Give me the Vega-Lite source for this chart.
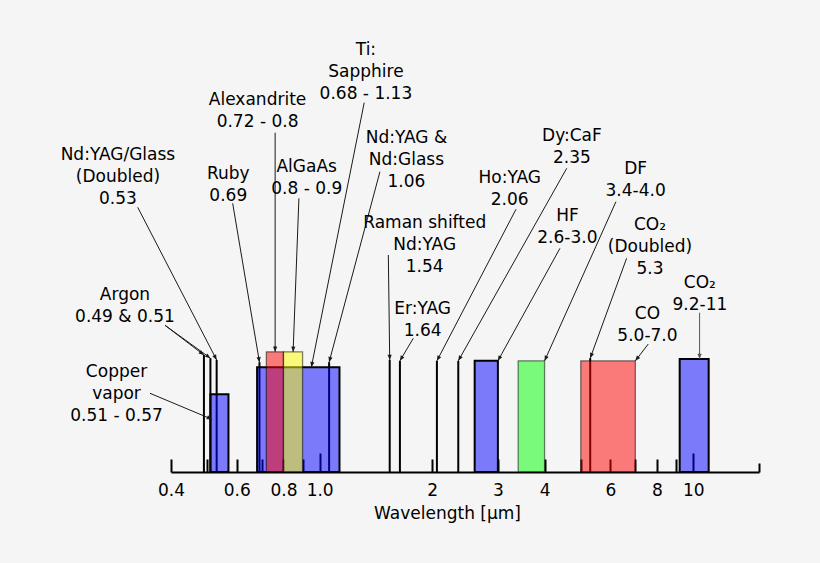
{
  "$schema": "https://vega.github.io/schema/vega-lite/v6.json",
  "width": 588,
  "height": 450,
  "autosize": {"type": "none"},
  "padding": {"left": 171, "top": 22, "right": 61, "bottom": 91},
  "background": "#f5f5f5",
  "config": {"view": {"stroke": null}},
  "datasets": {
    "lasers": [
      {"name": "Argon 0.49", "lo": 0.49, "hi": 0.49, "h": 26.0, "kind": "line"},
      {"name": "Argon 0.51", "lo": 0.51, "hi": 0.51, "h": 25.3, "kind": "line"},
      {"name": "Nd:YAG/Glass (Doubled)", "lo": 0.53, "hi": 0.53, "h": 24.9, "kind": "line"},
      {"name": "Ruby", "lo": 0.69, "hi": 0.69, "h": 24.4, "kind": "line"},
      {"name": "Nd:YAG & Nd:Glass", "lo": 1.06, "hi": 1.06, "h": 24.4, "kind": "line"},
      {"name": "Raman shifted Nd:YAG", "lo": 1.54, "hi": 1.54, "h": 24.9, "kind": "line"},
      {"name": "Er:YAG", "lo": 1.64, "hi": 1.64, "h": 24.7, "kind": "line"},
      {"name": "Ho:YAG", "lo": 2.06, "hi": 2.06, "h": 24.7, "kind": "line"},
      {"name": "Dy:CaF", "lo": 2.35, "hi": 2.35, "h": 24.7, "kind": "line"},
      {"name": "CO2 (Doubled)", "lo": 5.3, "hi": 5.3, "h": 25.3, "kind": "line"},
      {"name": "Copper vapor", "lo": 0.51, "hi": 0.57, "h": 17.3, "kind": "band"},
      {"name": "Ti:Sapphire", "lo": 0.68, "hi": 1.13, "h": 23.3, "kind": "band"},
      {"name": "Alexandrite", "lo": 0.72, "hi": 0.8, "h": 26.7, "kind": "band"},
      {"name": "AlGaAs", "lo": 0.8, "hi": 0.9, "h": 26.7, "kind": "band"},
      {"name": "HF", "lo": 2.6, "hi": 3.0, "h": 24.7, "kind": "band"},
      {"name": "DF", "lo": 3.4, "hi": 4.0, "h": 24.7, "kind": "band"},
      {"name": "CO", "lo": 5.0, "hi": 7.0, "h": 24.7, "kind": "band"},
      {"name": "CO2", "lo": 9.2, "hi": 11, "h": 25.1, "kind": "band"}
    ],
    "labels": [
      {"text": "Ti:\nSapphire\n0.68 - 1.13", "lx": 1.33, "ly": 92.67},
      {"text": "Alexandrite\n0.72 - 0.8", "lx": 0.682, "ly": 81.56},
      {"text": "Nd:YAG &\nNd:Glass\n1.06", "lx": 1.707, "ly": 73.18},
      {"text": "Dy:CaF\n2.35", "lx": 4.736, "ly": 73.62},
      {"text": "Nd:YAG/Glass\n(Doubled)\n0.53", "lx": 0.2884, "ly": 69.33},
      {"text": "Ruby\n0.69", "lx": 0.5694, "ly": 65.04},
      {"text": "AlGaAs\n0.8 - 0.9", "lx": 0.9233, "ly": 66.6},
      {"text": "DF\n3.4-4.0", "lx": 7.013, "ly": 66.16},
      {"text": "Ho:YAG\n2.06", "lx": 3.227, "ly": 64.16},
      {"text": "Raman shifted\nNd:YAG\n1.54", "lx": 1.911, "ly": 54.16},
      {"text": "HF\n2.6-3.0", "lx": 4.605, "ly": 55.78},
      {"text": "CO₂\n(Doubled)\n5.3", "lx": 7.66, "ly": 53.78},
      {"text": "Argon\n0.49 & 0.51", "lx": 0.3012, "ly": 38.22},
      {"text": "Er:YAG\n1.64", "lx": 1.887, "ly": 35.11},
      {"text": "CO₂\n9.2-11", "lx": 10.42, "ly": 40.82},
      {"text": "CO\n5.0-7.0", "lx": 7.543, "ly": 33.93},
      {"text": "Copper\nvapor\n0.51 - 0.57", "lx": 0.2859, "ly": 21.04}
    ],
    "leaders": [
      {"label": "Ti:Sapphire", "sx": 1.316, "sy": 82.07, "tx": 0.95, "ty": 23.3},
      {"label": "Alexandrite", "sx": 0.76, "sy": 75.4, "tx": 0.76, "ty": 26.7},
      {"label": "Nd:YAG & Nd:Glass", "sx": 1.45, "sy": 66.73, "tx": 1.06, "ty": 24.4},
      {"label": "Dy:CaF", "sx": 4.585, "sy": 67.49, "tx": 2.35, "ty": 24.7},
      {"label": "Nd:YAG/Glass (Doubled)", "sx": 0.3258, "sy": 58.82, "tx": 0.53, "ty": 24.9},
      {"label": "Ruby", "sx": 0.585, "sy": 59.71, "tx": 0.69, "ty": 24.4},
      {"label": "AlGaAs", "sx": 0.88, "sy": 60.82, "tx": 0.849, "ty": 26.7},
      {"label": "DF", "sx": 6.211, "sy": 60.07, "tx": 4.0, "ty": 24.7},
      {"label": "Ho:YAG", "sx": 3.354, "sy": 58.38, "tx": 2.06, "ty": 24.7},
      {"label": "Raman shifted Nd:YAG", "sx": 1.527, "sy": 48.22, "tx": 1.54, "ty": 24.9},
      {"label": "HF", "sx": 4.398, "sy": 49.71, "tx": 3.0, "ty": 24.7},
      {"label": "CO2 (Doubled)", "sx": 6.633, "sy": 47.49, "tx": 5.3, "ty": 25.3},
      {"label": "Argon", "sx": 0.3855, "sy": 32.6, "tx": 0.49, "ty": 26.0},
      {"label": "Argon", "sx": 0.3855, "sy": 32.6, "tx": 0.51, "ty": 25.3},
      {"label": "Er:YAG", "sx": 1.781, "sy": 29.71, "tx": 1.64, "ty": 24.7},
      {"label": "CO2", "sx": 10.4, "sy": 35.4, "tx": 10.4, "ty": 25.1},
      {"label": "CO", "sx": 7.58, "sy": 28.44, "tx": 7.0, "ty": 24.7},
      {"label": "Copper vapor", "sx": 0.3514, "sy": 17.49, "tx": 0.515, "ty": 11.71}
    ]
  },
  "layer": [
    {
      "data": {"name": "lasers"},
      "transform": [{"filter": "datum.kind == 'line'"}],
      "mark": {"type": "rule", "color": "black", "strokeWidth": 2},
      "encoding": {
        "x": {
          "field": "lo", "type": "quantitative", "title": "Wavelength [µm]",
          "scale": {"type": "log", "domain": [0.4, 15], "nice": false},
          "axis": {
            "values": [0.4, 0.5, 0.6, 0.7, 0.8, 0.9, 1, 2, 3, 4, 5, 6, 7, 8, 9, 10, 15],
            "labelExpr": "indexof([0.4,0.6,0.8,1,2,3,4,6,8,10], datum.value) >= 0 ? (datum.value <= 1 ? format(datum.value, '.1f') : format(datum.value, 'd')) : ''",
            "grid": false,
            "domainColor": "black", "domainWidth": 2,
            "tickColor": "black", "tickWidth": 2,
            "tickSize": {"condition": [{"test": "datum.value == 1 || datum.value == 10", "value": -19}, {"test": "datum.value == 15", "value": -9}], "value": -13},
            "labelPadding": {"condition": [{"test": "datum.value == 1 || datum.value == 10", "value": 29}, {"test": "datum.value == 15", "value": 19}], "value": 23},
            "labelFont": "DejaVu Sans", "labelFontSize": 17, "labelColor": "black",
            "labelFlush": false, "labelOverlap": false, "labelBound": false,
            "titleFont": "DejaVu Sans", "titleFontSize": 17, "titleFontWeight": "normal", "titleColor": "black",
            "titleX": 276, "titleY": 46, "titleAlign": "center", "titleBaseline": "alphabetic"
          }
        },
        "y": {"field": "h", "type": "quantitative", "scale": {"domain": [0, 100], "nice": false}, "axis": null},
        "y2": {"datum": 0}
      }
    },
    {
      "data": {"name": "lasers"},
      "transform": [{"filter": "datum.kind == 'band'"}],
      "mark": {"type": "rect", "stroke": "black", "fillOpacity": 0.5},
      "encoding": {
        "x": {"field": "lo", "type": "quantitative", "title": "Wavelength [µm]", "scale": {"type": "log", "domain": [0.4, 15], "nice": false}},
        "x2": {"field": "hi"},
        "y": {"field": "h", "type": "quantitative", "scale": {"domain": [0, 100], "nice": false}, "axis": null},
        "y2": {"datum": 0},
        "fill": {
          "field": "name", "type": "nominal", "legend": null,
          "scale": {
            "domain": ["Copper vapor", "Ti:Sapphire", "Alexandrite", "AlGaAs", "HF", "DF", "CO", "CO2"],
            "range": ["#0000ff", "#0000ff", "#ff0000", "#ffff00", "#0000ff", "#00ff00", "#ff0000", "#0000ff"]
          }
        },
        "strokeWidth": {"condition": {"test": "indexof(['Alexandrite','AlGaAs','DF','CO'], datum.name) >= 0", "value": 1.3}, "value": 2},
        "strokeOpacity": {"condition": {"test": "indexof(['Alexandrite','AlGaAs','DF','CO'], datum.name) >= 0", "value": 0.5}, "value": 1}
      }
    },
    {
      "data": {"name": "leaders"},
      "mark": {"type": "rule", "strokeWidth": 1},
      "encoding": {
        "x": {"field": "sx", "type": "quantitative", "title": "Wavelength [µm]", "scale": {"type": "log", "domain": [0.4, 15], "nice": false}},
        "x2": {"field": "tx"},
        "y": {"field": "sy", "type": "quantitative", "scale": {"domain": [0, 100], "nice": false}, "axis": null},
        "y2": {"field": "ty"},
        "color": {"condition": {"test": "datum.label == 'CO2'", "value": "#555555"}, "value": "#1a1a1a"},
        "strokeWidth": {"condition": {"test": "datum.label == 'CO2'", "value": 1.6}, "value": 1}
      }
    },
    {
      "data": {"name": "leaders"},
      "mark": {
        "type": "point", "shape": "M -0.4 -1 L 0 0 L 0.4 -1 Z", "filled": true, "size": 110, "opacity": 1,
        "angle": {"expr": "atan2(scale('x', datum.sx) - scale('x', datum.tx), scale('y', datum.ty) - scale('y', datum.sy)) * 180 / PI"}
      },
      "encoding": {
        "x": {"field": "tx", "type": "quantitative", "title": "Wavelength [µm]", "scale": {"type": "log", "domain": [0.4, 15], "nice": false}},
        "y": {"field": "ty", "type": "quantitative", "scale": {"domain": [0, 100], "nice": false}, "axis": null},
        "color": {"condition": {"test": "datum.label == 'CO2'", "value": "#555555"}, "value": "#1a1a1a"}
      }
    },
    {
      "data": {"name": "labels"},
      "mark": {"type": "text", "font": "DejaVu Sans", "fontSize": 17, "lineHeight": 22, "lineBreak": "\n", "align": "center", "baseline": "alphabetic", "color": "black"},
      "encoding": {
        "x": {"field": "lx", "type": "quantitative", "title": "Wavelength [µm]", "scale": {"type": "log", "domain": [0.4, 15], "nice": false}},
        "y": {"field": "ly", "type": "quantitative", "scale": {"domain": [0, 100], "nice": false}, "axis": null},
        "text": {"field": "text", "type": "nominal"}
      }
    }
  ]
}
